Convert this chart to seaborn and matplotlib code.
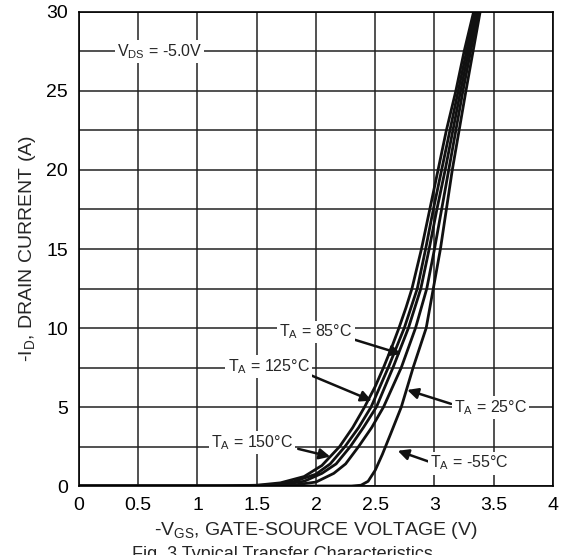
import numpy as np
import pandas as pd
import matplotlib
matplotlib.use("Agg")
import matplotlib.pyplot as plt
import seaborn as sns

# courbes : -VGS (V) et -ID (A) pour chaque TA
vgs_150 = [0.0, 1.2, 1.5, 1.7, 1.9, 2.05, 2.20, 2.31, 2.41, 2.50, 2.57, 2.64, 2.70, 2.76, 2.81, 2.89, 2.96, 3.03, 3.10, 3.18, 3.25, 3.33]
id_150 = [0, 0, 0.05, 0.2, 0.6, 1.3, 2.5, 3.7, 5.0, 6.3, 7.5, 8.8, 10.0, 11.3, 12.5, 15, 17.5, 20, 22.5, 25, 27.5, 30]

vgs_125 = [0.0, 1.3, 1.6, 1.8, 2.0, 2.12, 2.245, 2.36, 2.465, 2.61, 2.745, 2.855, 2.925, 2.99, 3.06, 3.20, 3.34]
id_125 = [0, 0, 0.06, 0.25, 0.75, 1.4, 2.5, 3.7, 5, 7.5, 10, 12.5, 15, 17.5, 20, 25, 30]

vgs_85 = [0.0, 1.4, 1.7, 1.9, 2.05, 2.17, 2.29, 2.40, 2.51, 2.65, 2.78, 2.885, 2.955, 3.02, 3.09, 3.22, 3.355]
id_85 = [0, 0, 0.07, 0.3, 0.8, 1.4, 2.5, 3.7, 5, 7.5, 10, 12.5, 15, 17.5, 20, 25, 30]

vgs_25 = [0.0, 1.5, 1.8, 2.0, 2.15, 2.25, 2.36, 2.47, 2.57, 2.72, 2.84, 2.935, 3.0, 3.06, 3.12, 3.24, 3.37]
id_25 = [0, 0, 0.05, 0.25, 0.8, 1.4, 2.5, 3.7, 5, 7.5, 10, 12.5, 15, 17.5, 20, 25, 30]

vgs_m55 = [0.0, 2.30, 2.38, 2.44, 2.50, 2.56, 2.63, 2.72, 2.82, 2.93, 2.99, 3.05, 3.10, 3.15, 3.265, 3.385]
id_m55 = [0, 0, 0.05, 0.3, 1.0, 2.0, 3.3, 5, 7.5, 10, 12.5, 15, 17.5, 20, 25, 30]

curves = [("150", vgs_150, id_150), ("125", vgs_125, id_125), ("85", vgs_85, id_85),
          ("25", vgs_25, id_25), ("-55", vgs_m55, id_m55)]

df = pd.concat([pd.DataFrame({"vgs": v, "id": i, "ta": t}) for t, v, i in curves], ignore_index=True)

sns.set_theme(style="white")
plt.rcParams["font.family"] = ["Liberation Sans", "DejaVu Sans"]
plt.rcParams["mathtext.fontset"] = "custom"
plt.rcParams["mathtext.rm"] = "Liberation Sans"

fig = plt.figure(figsize=(5.64, 5.55), dpi=100)
ax = fig.add_axes([0.140, 0.1243, 0.8405, 0.8541])

sns.lineplot(data=df, x="vgs", y="id", units="ta", estimator=None, sort=False,
             color="#111111", lw=2, ax=ax)

ax.set_xlim(0, 4)
ax.set_ylim(0, 30)
ax.set_xticks(np.arange(0, 4.01, 0.5))
ax.set_xticklabels(["0", "0.5", "1", "1.5", "2", "2.5", "3", "3.5", "4"])
ax.set_yticks(np.arange(0, 31, 5))
ax.set_yticks(np.arange(0, 31, 2.5), minor=True)
ax.grid(True, which="both", color="#222222", lw=1.1)
ax.set_axisbelow(True)
ax.tick_params(axis="both", which="both", length=0, labelsize=14, pad=8, colors="black")
for s in ax.spines.values():
    s.set_color("black")
    s.set_linewidth(1.2)

ax.set_xlabel("-V$_{\\mathregular{GS}}$, GATE-SOURCE VOLTAGE (V)", fontsize=14, labelpad=4)
ax.set_ylabel("-I$_{\\mathregular{D}}$, DRAIN CURRENT (A)", fontsize=14, labelpad=6)

box = dict(facecolor="white", edgecolor="none", pad=1.5)
ax.text(0.68, 27.5, "V$_{\\mathregular{DS}}$ = -5.0V", fontsize=11.5, ha="center", va="center", bbox=box)

arr = dict(arrowstyle="-|>", color="#111111", lw=1.8, mutation_scale=16, shrinkA=0, shrinkB=0)
labels = [
    ("T$_{\\mathregular{A}}$ = 85°C", (2.0, 9.75), (2.72, 8.35), (2.33, 9.25)),
    ("T$_{\\mathregular{A}}$ = 125°C", (1.60, 7.55), (2.47, 5.4), (1.96, 7.0)),
    ("T$_{\\mathregular{A}}$ = 150°C", (1.46, 2.75), (2.12, 1.86), (1.85, 2.35)),
    ("T$_{\\mathregular{A}}$ = 25°C", (3.47, 4.95), (2.77, 6.08), (3.14, 5.2)),
    ("T$_{\\mathregular{A}}$ = -55°C", (3.29, 1.45), (2.69, 2.23), (2.95, 1.55)),
]
for txt, pos, tip, start in labels:
    ax.annotate("", xy=tip, xytext=start, arrowprops=arr)
    ax.text(pos[0], pos[1], txt, fontsize=11.5, ha="center", va="center", bbox=box)

# légende de la figure, coupée en bas comme sur l'original
fig.text(0.5, 0.016, "Fig. 3 Typical Transfer Characteristics", fontsize=13, ha="center", va="top")

fig.savefig("out.png", dpi=100)
